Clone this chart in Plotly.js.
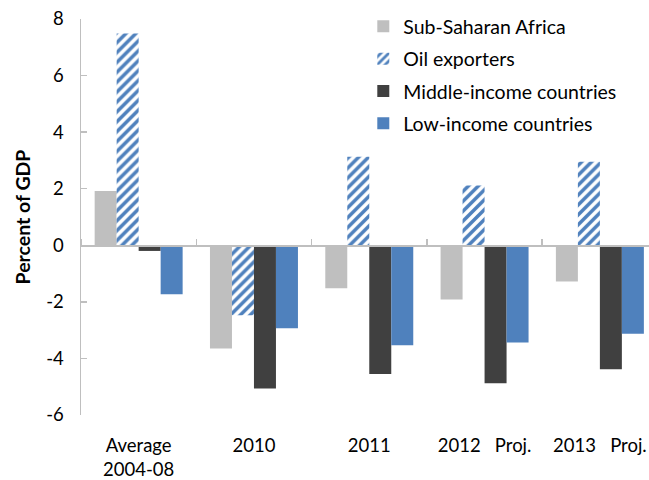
<!DOCTYPE html>
<html>
<head>
<meta charset="utf-8">
<script src="https://cdn.plot.ly/plotly-3.0.1.min.js"></script>
<style>html,body{margin:0;padding:0;background:#fff;}</style>
</head>
<body>
<div id="chart" style="width:649px;height:480px;"></div>
<script>
const categories = ["Average<br>2004-08", "2010", "2011", "2012\u00a0\u00a0\u00a0Proj.", "2013\u00a0\u00a0\u00a0Proj."];
const subSaharan = [1.92, -3.65, -1.52, -1.92, -1.28];
const oilExporters = [7.49, -2.47, 3.13, 2.11, 2.95];
const middleIncome = [-0.2, -5.06, -4.55, -4.88, -4.38];
const lowIncome = [-1.73, -2.93, -3.53, -3.44, -3.13];
const seriesNames = ["Sub-Saharan Africa", "Oil exporters", "Middle-income countries", "Low-income countries"];
const yTicks = [-6, -4, -2, 0, 2, 4, 6, 8];

const FONT = "Lato, 'Open Sans', sans-serif";
const BLUE = "#4F81BD";
const AXIS = "#BFBFBF";

const traces = [
  {type: "bar", name: seriesNames[0], x: categories, y: subSaharan, legendgroup: "a",
   marker: {color: "#BFBFBF", line: {width: 0}}},
  {type: "bar", name: seriesNames[1], x: categories, y: oilExporters, legendgroup: "b",
   marker: {color: "#FFFFFF", line: {width: 0},
            pattern: {shape: "/", fgcolor: BLUE, bgcolor: "#FFFFFF", size: 7, solidity: 0.5}}},
  {type: "bar", name: seriesNames[2], x: categories, y: middleIncome, legendgroup: "c",
   marker: {color: "#404040", line: {width: 0}}},
  {type: "bar", name: seriesNames[3], x: categories, y: lowIncome, legendgroup: "d",
   marker: {color: BLUE, line: {width: 0}}},
  // carrier for the category axis drawn along the zero line (no visible marks)
  {type: "scatter", mode: "none", x: categories, y: subSaharan, xaxis: "x2", yaxis: "y",
   showlegend: false, hoverinfo: "skip"}
];

const xRange = [-0.5, 4.426];

const layout = {
  width: 649, height: 480,
  margin: {l: 81, r: 0, t: 19, b: 65},
  paper_bgcolor: "#FFFFFF", plot_bgcolor: "#FFFFFF",
  font: {family: FONT, size: 18.5, color: "#000000"},
  barmode: "group", bargap: 0.237, bargroupgap: 0,
  showlegend: true,
  legend: {x: 0.497, y: 1.03, xanchor: "left", yanchor: "top",
           font: {family: FONT, size: 19.5, color: "#000000"},
           bgcolor: "rgba(0,0,0,0)", traceorder: "grouped", tracegroupgap: 4,
           itemwidth: 30},
  xaxis: {type: "category", range: xRange, showline: false, ticks: "", showgrid: false,
          zeroline: false, tickfont: {family: FONT, size: 18.5, color: "#000"},
          ticklabelstandoff: 17, fixedrange: true},
  xaxis2: {overlaying: "x", anchor: "free", position: 6/14, side: "top", type: "category",
           range: xRange, tickson: "boundaries", ticks: "outside", ticklen: 6,
           tickcolor: AXIS, tickwidth: 1.5, showline: true, linecolor: AXIS, linewidth: 1.5,
           showticklabels: false, showgrid: false, zeroline: false},
  yaxis: {range: [-6, 8], tickvals: yTicks, ticktext: yTicks.map(String),
          showline: true, linecolor: AXIS, linewidth: 1.5,
          ticks: "inside", ticklen: 6, tickcolor: AXIS, tickwidth: 1.5,
          showgrid: false, zeroline: true, zerolinecolor: AXIS, zerolinewidth: 1.5,
          tickfont: {family: FONT, size: 18.5, color: "#000"}, ticklabelstandoff: 12,
          title: {text: "<b>Percent of GDP</b>", font: {family: FONT, size: 19.5, color: "#000"}, standoff: 10}}
};

Plotly.newPlot("chart", traces, layout, {displayModeBar: false, staticPlot: true});
</script>
</body>
</html>
